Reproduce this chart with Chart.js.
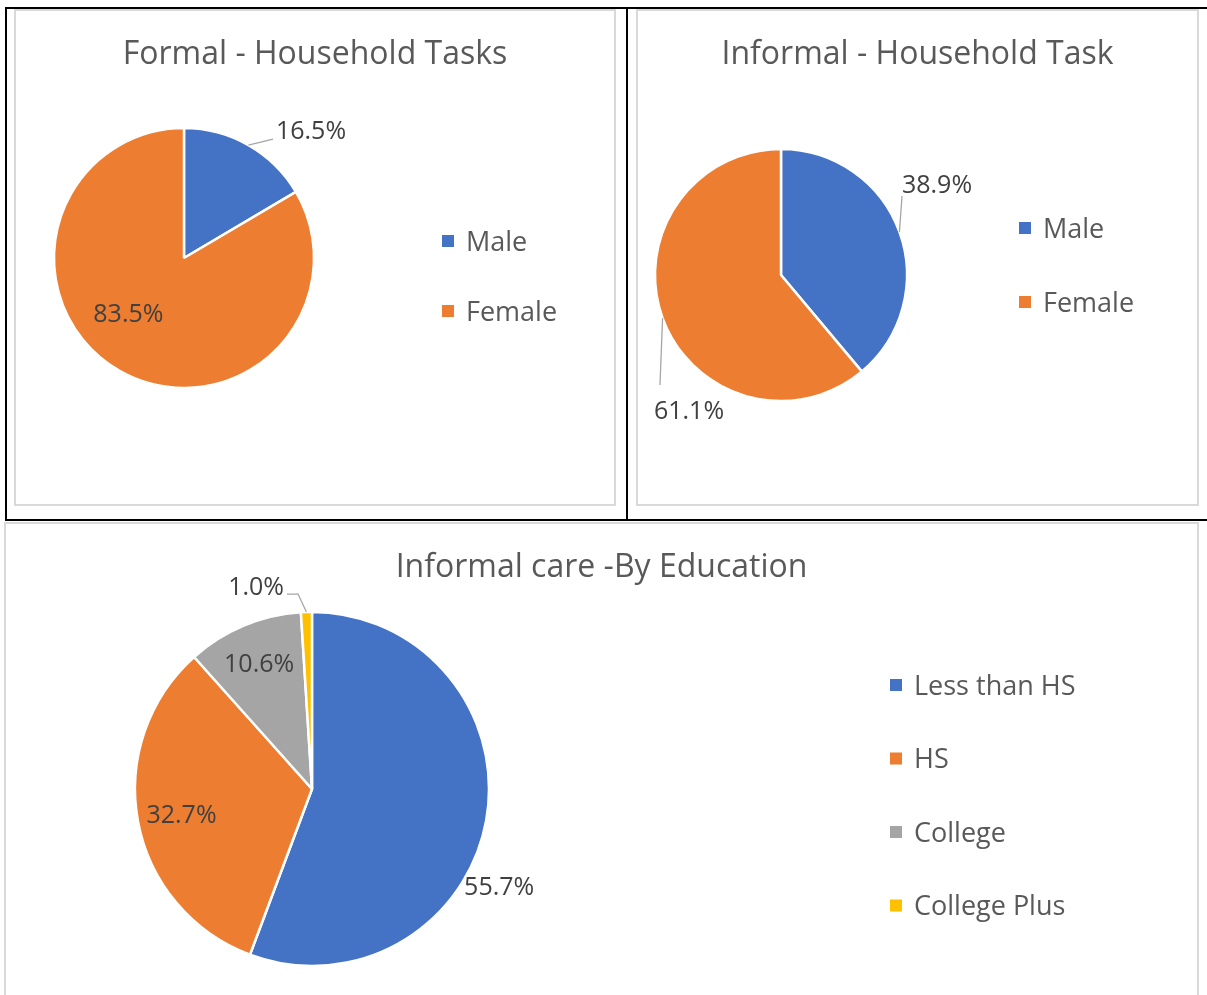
<!DOCTYPE html>
<html>
<head>
<meta charset="utf-8">
<title>Household tasks and informal care</title>
<script src="https://cdn.jsdelivr.net/npm/chart.js@4.4.1/dist/chart.umd.min.js"></script>
<style>
  html, body { margin: 0; padding: 0; background: #fff; }
  body { width: 1207px; height: 995px; position: relative; overflow: hidden; }
  .rule { position: absolute; background: #000; }
  .panel { position: absolute; border: 2px solid #D9D9D9; box-sizing: border-box; }
  canvas { position: absolute; }
</style>
</head>
<body>
<div class="panel" style="left:14px;top:9px;width:602px;height:497px"></div>
<div class="panel" style="left:636px;top:9px;width:563px;height:497px"></div>
<div class="panel" style="left:4px;top:522px;width:1195px;height:490px"></div>

<div class="rule" style="left:5px;top:7px;width:1202px;height:2px"></div>
<div class="rule" style="left:5px;top:7px;width:2px;height:514px"></div>
<div class="rule" style="left:626px;top:7px;width:2px;height:514px"></div>
<div class="rule" style="left:5px;top:519px;width:1202px;height:2px"></div>

<canvas id="formalChart" width="602" height="497" style="left:14px;top:9px"></canvas>
<canvas id="informalChart" width="563" height="497" style="left:636px;top:9px"></canvas>
<canvas id="educationChart" width="1195" height="473" style="left:4px;top:522px"></canvas>

<script>
// data (percent)
const formalTitle = 'Formal - Household Tasks';
const formalLabels = ['Male', 'Female'];
const formalValues = [16.5, 83.5];

const informalTitle = 'Informal - Household Task';
const informalLabels = ['Male', 'Female'];
const informalValues = [38.9, 61.1];

const educationTitle = 'Informal care -By Education';
const educationLabels = ['Less than HS', 'HS', 'College', 'College Plus'];
const educationValues = [55.7, 32.7, 10.6, 1.0];

const COLORS = ['#4472C4', '#ED7D31', '#A5A5A5', '#FFC000'];
const FONT = '"Open Sans", "Noto Sans", sans-serif';

// title, legend and data labels drawn like the office chart
const panelText = {
    id: 'panelText',
    afterDraw(chart, args, opts) {
        const ctx = chart.ctx;
        const ds = chart.data.datasets[0];
        ctx.save();
        ctx.textBaseline = 'middle';

        // title
        ctx.font = '32px ' + FONT;
        ctx.fillStyle = '#595959';
        ctx.textAlign = 'center';
        ctx.fillText(opts.title, chart.width / 2, opts.titleY);

        // legend
        ctx.font = '27px ' + FONT;
        ctx.textAlign = 'left';
        chart.data.labels.forEach((lab, i) => {
            const y = opts.legendY + i * opts.legendGap;
            ctx.fillStyle = ds.backgroundColor[i];
            ctx.fillRect(opts.legendX - 6, y - 6, 12, 12);
            ctx.fillStyle = '#595959';
            ctx.fillText(lab, opts.legendX + 18, y + 2);
        });

        // data labels
        const meta = chart.getDatasetMeta(0);
        ctx.font = '25px ' + FONT;
        ctx.textAlign = 'center';
        meta.data.forEach((arc, i) => {
            const sp = opts.labels[i];
            const mid = (arc.startAngle + arc.endAngle) / 2;
            const r = arc.outerRadius * sp.f;
            const ax = arc.x + Math.cos(mid) * r;
            const ay = arc.y + Math.sin(mid) * r;
            const tx = ax + (sp.dx || 0);
            const ty = ay + (sp.dy || 0);
            if (sp.leader) {
                ctx.strokeStyle = '#A6A6A6';
                ctx.lineWidth = 1.3;
                ctx.beginPath();
                ctx.moveTo(ax, ay);
                sp.leader.forEach(p => ctx.lineTo(tx + p[0], ty + p[1]));
                ctx.stroke();
            }
            ctx.fillStyle = '#404040';
            ctx.fillText(ds.data[i].toFixed(1) + '%', tx, ty + 2);
        });
        ctx.restore();
    }
};

function makePie(id, title, labels, values, pos, text) {
    const canvas = document.getElementById(id);
    const W = canvas.width, H = canvas.height;
    const m = pos.r + 4;
    return new Chart(canvas, {
        type: 'pie',
        data: {
            labels: labels,
            datasets: [{
                data: values,
                backgroundColor: COLORS.slice(0, values.length),
                borderColor: '#FFFFFF',
                borderWidth: 2.5,
                radius: pos.r
            }]
        },
        options: {
            responsive: false,
            animation: false,
            events: [],
            layout: {
                padding: {
                    left: pos.cx - m,
                    right: W - pos.cx - m,
                    top: pos.cy - m,
                    bottom: H - pos.cy - m
                }
            },
            plugins: {
                legend: { display: false },
                tooltip: { enabled: false },
                title: { display: false },
                panelText: Object.assign({ title: title }, text)
            }
        },
        plugins: [panelText]
    });
}

makePie('formalChart', formalTitle, formalLabels, formalValues,
    { cx: 170, cy: 249, r: 130 },
    {
        titleY: 46, legendX: 434, legendY: 232, legendGap: 70,
        labels: [
            { f: 1, dx: 62.6, dy: -15, leader: [[-38, 9]] },
            { f: 0.6, dx: -17, dy: -13 }
        ]
    });

makePie('informalChart', informalTitle, informalLabels, informalValues,
    { cx: 145, cy: 266, r: 126 },
    {
        titleY: 46, legendX: 389, legendY: 219, legendGap: 74,
        labels: [
            { f: 1, dx: 37.6, dy: -47.9, leader: [[-35, 12]] },
            { f: 1, dx: 26.4, dy: 91.9, leader: [[-29, -25]] }
        ]
    });

makePie('educationChart', educationTitle, educationLabels, educationValues,
    { cx: 308, cy: 267, r: 177 },
    {
        titleY: 46, legendX: 892, legendY: 163, legendGap: 73.5,
        labels: [
            { f: 1, dx: 13, dy: 65 },
            { f: 0.75 },
            { f: 0.775 },
            { f: 1, dx: -50.4, dy: -26, leader: [[42, 8], [31, 8]] }
        ]
    });
</script>
</body>
</html>
